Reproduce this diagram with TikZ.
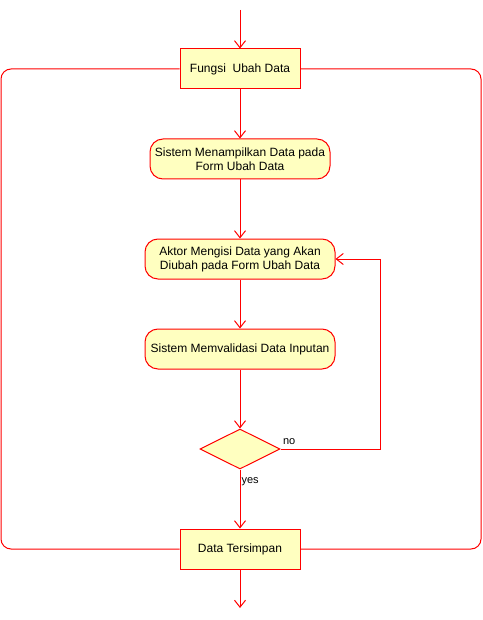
\documentclass[tikz,border=0pt]{standalone}
\usepackage{fontspec}
\setmainfont{Liberation Sans}
\usepackage{xcolor}
\usepackage{tikz}
\usetikzlibrary{positioning,shapes.geometric,arrows.meta}
\definecolor{garis}{RGB}{255,0,0}
\definecolor{isian}{RGB}{255,255,192}

\begin{document}
\begin{tikzpicture}[
    x=1pt, y=-1pt,
    box/.style={rectangle, draw=garis, fill=isian, line width=1pt, inner sep=0pt,
                minimum width=120pt, minimum height=40pt, font=\fontsize{12}{14}\selectfont, align=center},
    aksi/.style={rectangle, rounded corners=13pt, draw=garis, fill=isian, line width=1pt, inner sep=0pt,
                minimum height=40pt, font=\fontsize{12}{14}\selectfont, align=center},
    cabang/.style={diamond, draw=garis, fill=isian, line width=1pt, inner sep=0pt,
                minimum width=80pt, minimum height=40pt},
    arr/.style={-{Straight Barb[length=7pt,width=11pt]}, line width=1pt, color=garis},
    bingkai/.style={line width=1pt, color=garis, rounded corners=10pt},
    ket/.style={font=\fontsize{11}{13}\selectfont, inner sep=1pt, text=black}
  ]
    \useasboundingbox (0,0) rectangle (482,620);

    \coordinate (mulai) at (240,10);
    \coordinate (akhir) at (240,608);
    \coordinate (pojokkiri)  at (1,549);
    \coordinate (pojokkanan) at (481,549);

    % bingkai dulu, kotak menutupinya
    \node[box] (fungsi) at (240,69)  {Fungsi\ \ Ubah Data};
    \node[box] (simpan) at (240,549) {Data Tersimpan};
    \draw[bingkai] (fungsi.west) -| (pojokkiri) -- (simpan.west);
    \draw[bingkai] (fungsi.east) -| (pojokkanan) -- (simpan.east);
    \node[box] at (fungsi) {Fungsi\ \ Ubah Data};
    \node[box] at (simpan) {Data Tersimpan};

    \node[aksi, minimum width=180pt] (tampil)   at (240,159) {Sistem Menampilkan Data pada\\Form Ubah Data};
    \node[aksi, minimum width=190pt] (isi)      at (240,259) {Aktor Mengisi Data yang Akan\\Diubah pada Form Ubah Data};
    \node[aksi, minimum width=190pt] (validasi) at (240,349) {Sistem Memvalidasi Data Inputan};
    \node[cabang] (cek) at (240,449) {};

    \draw[arr] (mulai)    -- (fungsi);
    \draw[arr] (fungsi)   -- (tampil);
    \draw[arr] (tampil)   -- (isi);
    \draw[arr] (isi)      -- (validasi);
    \draw[arr] (validasi) -- (cek);
    \draw[arr] (cek.east) -- ++(100,0) node[ket, pos=0, anchor=south west, xshift=1pt, yshift=3pt] {no} |- (isi.east);
    \draw[arr] (cek.south) -- node[ket, pos=0.2, anchor=west] {yes} (simpan.north);
    \draw[arr] (simpan)   -- (akhir);
  \end{tikzpicture}
\end{document}
